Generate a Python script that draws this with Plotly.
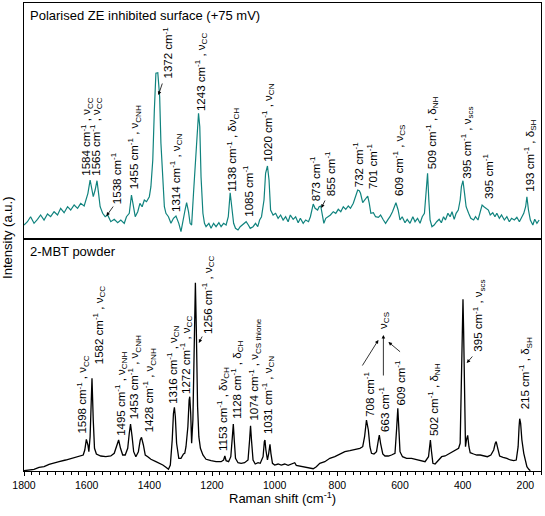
import plotly.graph_objects as go

# ---------------- data ----------------
top_shift = [1800, 1789, 1779, 1768, 1757, 1747, 1736, 1725, 1715, 1704, 1693, 1683, 1672, 1661, 1651, 1640,
             1629, 1619, 1608, 1603, 1596, 1589, 1583, 1579, 1573, 1567, 1562, 1557, 1549, 1541, 1533, 1523,
             1512, 1501, 1491, 1480, 1473, 1464, 1457, 1450, 1445, 1437, 1430, 1423, 1416, 1409, 1400, 1395,
             1389, 1384, 1379, 1373, 1370, 1367, 1363, 1357, 1352, 1347, 1339, 1331, 1323, 1315, 1306, 1299,
             1291, 1286, 1281, 1275, 1270, 1265, 1259, 1253, 1247, 1243, 1239, 1235, 1229, 1224, 1219, 1210,
             1203, 1195, 1187, 1178, 1171, 1163, 1155, 1148, 1142, 1137, 1131, 1125, 1117, 1110, 1103, 1096,
             1091, 1084, 1078, 1069, 1061, 1054, 1048, 1042, 1034, 1029, 1023, 1018, 1013, 1005, 997, 989,
             981, 973, 965, 957, 950, 941, 933, 925, 918, 909, 901, 892, 886, 877, 871, 863,
             858, 853, 847, 843, 837, 829, 822, 813, 805, 797, 789, 781, 773, 765, 758, 749,
             742, 735, 730, 726, 719, 713, 707, 703, 698, 693, 685, 678, 669, 662, 653, 646,
             638, 632, 624, 619, 613, 606, 600, 593, 584, 577, 568, 559, 552, 544, 536, 529,
             522, 517, 512, 508, 504, 498, 491, 483, 475, 468, 461, 455, 447, 440, 434, 427,
             421, 414, 408, 404, 399, 394, 389, 381, 374, 365, 359, 351, 344, 338, 332, 326,
             318, 312, 304, 297, 291, 283, 276, 267, 259, 251, 244, 235, 227, 219, 212, 205,
             199, 195, 190, 184, 176, 170, 163, 156]
top_int = [14, 17.3, 22.3, 15.7, 19.7, 24, 19, 25, 22.3, 27.3, 24, 30.7, 26.3, 32.3, 29, 34,
           30.7, 35.7, 33, 39, 45.7, 59, 47.3, 42.3, 49, 58.3, 45.7, 32.3, 25.7, 22.3, 24, 17.3,
           19.7, 16.3, 19, 15.7, 22.3, 25.7, 44, 29, 22.3, 27.3, 35.7, 32.3, 39, 37.3, 42.3, 52.3,
           79, 129, 165.7, 166.3, 152.3, 142.3, 95.7, 52.3, 32.3, 25.7, 22.3, 15.7, 20.7, 23, 15.7, 7.3,
           22.3, 29, 36.3, 27.3, 15.7, 14, 45.7, 79, 115.7, 125.7, 112.3, 62.3, 25.7, 15.7, 12.3, 15.7,
           10.7, 15.7, 12.3, 16.3, 12.3, 15.7, 14, 22.3, 46.3, 32.3, 15.7, 10.7, 9, 12.3, 14, 15.7,
           17.3, 14, 10.7, 12.3, 15.7, 12.3, 19, 22.3, 39, 65.7, 73, 59, 29, 24, 25.7, 20.7,
           24, 19, 22.3, 17.3, 24, 19.7, 22.3, 16.3, 20.7, 15.7, 19, 17.3, 22.3, 35, 30.7, 29,
           32.3, 33, 22.3, 15.7, 20.7, 22.3, 24, 27.3, 25.7, 29.7, 27.3, 32.3, 29.7, 33, 30.7, 35.7,
           42.3, 49, 48.3, 45.7, 36.3, 39, 42.3, 43, 35.7, 25.7, 26.3, 22.3, 21.7, 24, 19, 15.7,
           19.7, 22.3, 27.3, 32.3, 36.3, 29, 19, 22.3, 16.3, 19.7, 15.7, 22.3, 17.3, 20.7, 15.7, 22.3,
           25.7, 45.7, 65.7, 39, 19, 12.3, 14, 17.3, 19.7, 16.3, 22.3, 19, 25.7, 22.3, 27.3, 19.7,
           25.7, 29, 39, 52.3, 58.3, 45.7, 32.3, 25.7, 20.7, 19, 22.3, 19, 27.3, 34, 32.3, 30.7,
           29, 24, 26.3, 22.3, 25.7, 20.7, 24, 19, 22.3, 17.3, 20.7, 19, 21.7, 17.3, 22.3, 25.7,
           32.3, 42.3, 29, 19, 14, 19.7, 15.7, 19]

bot_shift = [1800, 1784, 1768, 1752, 1736, 1720, 1704, 1688, 1667, 1645, 1624, 1611, 1606, 1601, 1596, 1593,
             1589, 1583, 1579, 1575, 1569, 1555, 1539, 1523, 1512, 1505, 1498, 1492, 1485, 1477, 1469, 1464,
             1460, 1455, 1450, 1443, 1435, 1429, 1425, 1419, 1413, 1405, 1395, 1379, 1368, 1357, 1347, 1339,
             1333, 1327, 1323, 1320, 1317, 1313, 1306, 1299, 1291, 1287, 1283, 1277, 1273, 1271, 1268, 1265,
             1261, 1258, 1255, 1253, 1250, 1246, 1242, 1237, 1229, 1219, 1203, 1187, 1171, 1163, 1159, 1155,
             1147, 1140, 1135, 1132, 1129, 1125, 1117, 1107, 1096, 1085, 1080, 1077, 1074, 1069, 1062, 1053,
             1046, 1037, 1033, 1031, 1028, 1023, 1019, 1015, 1012, 1007, 1000, 989, 979, 968, 957, 947,
             936, 931, 920, 909, 899, 888, 877, 867, 856, 840, 824, 808, 792, 776, 760, 744,
             728, 719, 713, 707, 701, 696, 691, 683, 675, 669, 666, 662, 655, 648, 637, 627,
             616, 611, 607, 604, 600, 592, 579, 563, 547, 531, 520, 509, 506, 503, 500, 495,
             488, 477, 467, 456, 445, 435, 424, 413, 408, 404, 402, 399, 397, 394, 391, 388,
             384, 380, 376, 365, 355, 344, 331, 321, 310, 301, 296, 293, 288, 282, 271, 259,
             248, 237, 229, 223, 220, 218, 215, 211, 205, 200, 195, 189, 184]
bot_int = [0.3, 1, 1.7, 3.7, 4.3, 6.7, 7.7, 9.3, 11, 12.7, 14.3, 16, 21, 31.7, 26, 19.3,
           34.3, 92.7, 51, 22.7, 17, 15, 14.3, 15, 17.7, 24.3, 31, 22.7, 16, 16, 22.7, 37.7,
           47, 34.3, 19.3, 14.3, 19.3, 31, 33.7, 26, 16, 14.3, 11.7, 9.3, 7.7, 6, 3.7, 1.7,
           6, 31, 57.7, 63.7, 54.3, 27.7, 12.7, 12.7, 17, 17.7, 24.3, 44.3, 71, 74.3, 57.7, 27.7,
           51, 124.3, 186, 188.3, 141, 64.3, 34.3, 22.7, 16, 11.7, 10.3, 9.3, 9.3, 11, 15, 10.3,
           9.3, 14.3, 34.3, 47, 31, 12.7, 8.3, 7.7, 8.3, 11, 31, 45.3, 31, 11, 7, 8.3,
           7.7, 14.3, 29.3, 31, 21, 11, 17.7, 26.7, 17.7, 7.7, 6, 7, 6, 7, 5.7, 6.7,
           8.3, 5.7, 5, 4.3, 3.7, 2.7, 2.3, 4.3, 7.7, 9.3, 12.7, 14.3, 17, 19.3, 20.3, 21.7,
           22.7, 24.3, 34.3, 51, 41, 24.3, 17.7, 17, 19.3, 31, 36, 27.7, 17, 15, 15, 16,
           17.7, 41, 62.7, 44.3, 19.3, 14.3, 12.7, 12.7, 11.7, 10.3, 9.3, 14.3, 24.3, 31, 21, 7.7,
           7, 11, 14.3, 15, 17, 18.3, 21, 22.7, 27.7, 91, 151, 171.7, 141, 47.7, 24.3, 31,
           35.7, 24.3, 18.3, 17, 16, 16, 15, 14.3, 16, 21, 27.7, 29.3, 22.7, 15, 13.7, 12.7,
           11, 10.3, 11, 24.3, 44.3, 52.3, 47.7, 31, 17.7, 9.3, 4.3, 1.7, 0.3]

x_ticks = [1800, 1600, 1400, 1200, 1000, 800, 600, 400, 200]

# top-panel peak labels: text, label position (shift, intensity)
top_labels = [
    "1584 cm<sup>-1</sup> , ν<sub>CC</sub>", "1565 cm<sup>-1</sup> , ν<sub>CC</sub>", "1538 cm<sup>-1</sup>",
    "1455 cm<sup>-1</sup> , ν<sub>CNH</sub>", "1372 cm<sup>-1</sup>", "1314 cm<sup>-1</sup> , ν<sub>CN</sub>",
    "1243 cm<sup>-1</sup> , ν<sub>CC</sub>", "1138 cm<sup>-1</sup> , δν<sub>CH</sub>", "1085 cm<sup>-1</sup>",
    "1020 cm<sup>-1</sup> , ν<sub>CN</sub>", "873 cm<sup>-1</sup>", "855 cm<sup>-1</sup>",
    "732 cm<sup>-1</sup>", "701 cm<sup>-1</sup>", "609 cm<sup>-1</sup> , ν<sub>CS</sub>",
    "509 cm<sup>-1</sup> , δ<sub>NH</sub>", "395 cm<sup>-1</sup> , ν<sub>scs</sub>", "395 cm<sup>-1</sup>",
    "193 cm<sup>-1</sup> , δ<sub>SH</sub>"]
top_label_x = [1600, 1571, 1506, 1448, 1342, 1315, 1235, 1134, 1086, 1022, 872, 824, 735, 691, 605, 499, 387, 321, 186]
top_label_y = [62, 62, 34, 49, 159, 26, 127, 46, 21, 76, 37, 42, 51, 49, 42, 69, 59, 39, 46]

bot_labels = [
    "1598 cm<sup>-1</sup> , ν<sub>CC</sub>", "1582 cm<sup>-1</sup> , ν<sub>CC</sub>",
    "1495 cm<sup>-1</sup> , ν<sub>CNH</sub>", "1453 cm<sup>-1</sup> , ν<sub>CNH</sub>",
    "1428 cm<sup>-1</sup> , ν<sub>CNH</sub>", "1316 cm<sup>-1</sup> , ν<sub>CN</sub>",
    "1272 cm<sup>-1</sup> , ν<sub>CC</sub>", "1256 cm<sup>-1</sup> , ν<sub>CC</sub>",
    "1153 cm<sup>-1</sup> , δν<sub>CH</sub>", "1128 cm<sup>-1</sup> , δ<sub>CH</sub>",
    "1074 cm<sup>-1</sup> , ν<sub>CS thione</sub>", "1031 cm<sup>-1</sup> , ν<sub>CN</sub>",
    "708 cm<sup>-1</sup>", "663 cm<sup>-1</sup>", "609 cm<sup>-1</sup>", "ν<sub>CS</sub>",
    "502 cm<sup>-1</sup> , δ<sub>NH</sub>", "395 cm<sup>-1</sup> , ν<sub>scs</sub>",
    "215 cm<sup>-1</sup> , δ<sub>SH</sub>"]
bot_label_x = [1613, 1560, 1491, 1448, 1400, 1325, 1283, 1213, 1165, 1121, 1064, 1021, 701, 653, 600, 653, 493, 349, 200]
bot_label_y = [36, 106, 34, 51, 38, 66, 76, 136, 19, 51, 49, 36, 53, 38, 64, 141, 34, 118, 61]

# arrows: (tip shift, tip intensity, tail shift, tail intensity)
top_arrows = [(1537, 23, 1512, 34), (1371, 144, 1357, 157), (851, 31, 837, 40)]
bot_arrows = [(1242, 128, 1229, 136), (387, 108, 365, 116),
              (669, 131, 723, 104), (653, 136, 653, 94), (637, 129, 595, 118)]

TEAL = "#10837e"
FONT = "Liberation Sans, Arial, sans-serif"
LABEL_SIZE = 11.5

fig = go.Figure()
fig.add_trace(go.Scatter(x=bot_shift, y=bot_int, mode="lines", line=dict(color="black", width=1.3),
                         xaxis="x", yaxis="y", showlegend=False, hoverinfo="skip"))
fig.add_trace(go.Scatter(x=top_shift, y=top_int, mode="lines", line=dict(color=TEAL, width=1.2),
                         xaxis="x2", yaxis="y2", showlegend=False, hoverinfo="skip"))

ann = []
for t, x, y in zip(top_labels, top_label_x, top_label_y):
    ann.append(dict(text=t, x=x, y=y, xref="x2", yref="y2", textangle=-90, xanchor="center",
                    yanchor="bottom", showarrow=False, font=dict(size=LABEL_SIZE, color="black"), borderpad=0))
for t, x, y in zip(bot_labels, bot_label_x, bot_label_y):
    ann.append(dict(text=t, x=x, y=y, xref="x", yref="y", textangle=-90, xanchor="center",
                    yanchor="bottom", showarrow=False, font=dict(size=LABEL_SIZE, color="black"), borderpad=0))
for (x, y, ax, ay) in top_arrows:
    ann.append(dict(text="", x=x, y=y, ax=ax, ay=ay, xref="x2", yref="y2", axref="x2", ayref="y2",
                    showarrow=True, arrowhead=2, arrowsize=0.9, arrowwidth=0.8, arrowcolor="black", standoff=0))
for (x, y, ax, ay) in bot_arrows:
    ann.append(dict(text="", x=x, y=y, ax=ax, ay=ay, xref="x", yref="y", axref="x", ayref="y",
                    showarrow=True, arrowhead=2, arrowsize=0.9, arrowwidth=0.8, arrowcolor="black", standoff=0))

# panel titles, axis titles
ann.append(dict(text="Polarised ZE inhibited surface (+75 mV)", xref="paper", yref="paper",
                x=0.008, y=0.974, xanchor="left", yanchor="middle", showarrow=False,
                font=dict(size=13, color="black")))
ann.append(dict(text="2-MBT powder", xref="paper", yref="paper", x=0.008, y=0.468,
                xanchor="left", yanchor="middle", showarrow=False, font=dict(size=13, color="black")))
ann.append(dict(text="Raman shift (cm<sup>-1</sup>)", xref="paper", yref="paper", x=0.5, y=-0.058,
                xanchor="center", yanchor="middle", showarrow=False, font=dict(size=13, color="black")))
ann.append(dict(text="Intensity (a.u.)", xref="paper", yref="paper", x=-0.031, y=0.498, textangle=-90,
                xanchor="center", yanchor="middle", showarrow=False, font=dict(size=13, color="black")))

split = 0.4957
axis_common = dict(showline=True, linecolor="black", linewidth=1, mirror=True, showgrid=False, zeroline=False)
fig.update_layout(
    width=545, height=516,
    margin=dict(l=24, r=4, t=3, b=45),
    paper_bgcolor="white", plot_bgcolor="white",
    font=dict(family=FONT, color="black"),
    xaxis=dict(range=[1800, 150], anchor="y", tickvals=x_ticks, ticks="outside", ticklen=4,
               tickwidth=1, tickcolor="black", tickfont=dict(size=10.5),
               minor=dict(dtick=25, tick0=0, ticks="outside", ticklen=2.5, tickcolor="black"),
               **axis_common),
    xaxis2=dict(range=[1800, 150], anchor="y2", matches="x", showticklabels=False, ticks="",
                **axis_common),
    yaxis=dict(domain=[0, split], range=[0, 232], showticklabels=False, ticks="", **axis_common),
    yaxis2=dict(domain=[split, 1], range=[0, 236], showticklabels=False, ticks="", **axis_common),
    annotations=ann,
)

fig.write_html("out.html", config={"displayModeBar": False},
               post_script="document.body.style.margin='0';document.body.style.overflow='hidden';")
